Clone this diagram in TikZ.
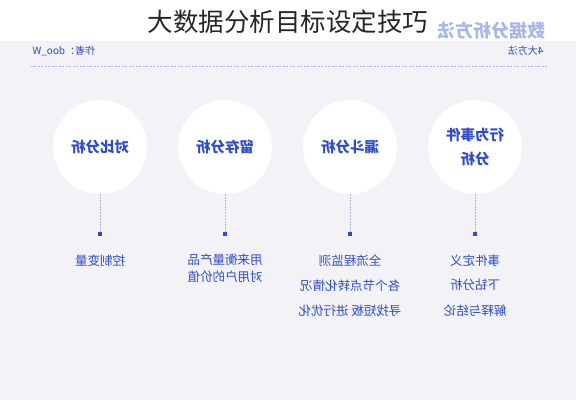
\documentclass[tikz,border=0pt]{standalone}
\usepackage{fontspec}
\newfontfamily\cjk{Noto Sans CJK SC}
\usetikzlibrary{positioning}
\definecolor{bandgray}{HTML}{F3F2F7}
\definecolor{inkblue}{HTML}{2E4CCF}
\definecolor{paleblue}{HTML}{A9B7E6}
\definecolor{dashgray}{HTML}{AEB8E0}

\begin{document}
\begin{tikzpicture}[x=1pt,y=-1pt,
  disc/.style={circle,fill=white,minimum size=94pt,inner sep=0pt,text=inkblue,
    font=\cjk\bfseries\fontsize{14.5}{24}\selectfont,align=center},
  pin/.style={fill=inkblue,minimum size=4pt,inner sep=0pt},
  note/.style={text=inkblue,inner sep=0pt,font=\cjk\fontsize{12.5}{17}\selectfont,align=center},
  link/.style={draw=dashgray,dash pattern=on 1.5pt off 1.5pt,line width=0.6pt}]
  \useasboundingbox (0,0) rectangle (576,400);
  \fill[bandgray] (0,41) rectangle (576,400);
  \node[font=\cjk\fontsize{25.5}{25.5}\selectfont,text=black!85] (title) at (288,22) {大数据分析目标设定技巧};

  % the lower part is shown mirrored
  \begin{scope}[xshift=576pt,xscale=-1,transform shape]
    \node[anchor=west,text=paleblue,font=\cjk\bfseries\fontsize{18}{18}\selectfont] (brand) at (27,31) {数据分析方法};
    \node[anchor=west,text=inkblue,font=\cjk\fontsize{10}{10}\selectfont] (count) at (29,51) {4大方法};
    \node[anchor=east,text=inkblue,font=\cjk\fontsize{10}{10}\selectfont] (author) at (547,51) {作者：doo\_W};
    \draw[dashgray,dash pattern=on 2pt off 1.5pt,line width=0.5pt] (29,66) -- (547,66);

    \node[disc] (event)  at (101,147) {行为事件\\分析};
    \node[disc] (funnel) at (226,147) {漏斗分析};
    \node[disc] (retain) at (351,147) {留存分析};
    \node[disc] (compare) at (476,147) {对比分析};

    \node[pin] (p1) at (101,234) {};
    \node[pin] (p2) at (226,234) {};
    \node[pin] (p3) at (351,234) {};
    \node[pin] (p4) at (476,234) {};

    \path[link]
      (event)   edge (p1)
      (funnel)  edge (p2)
      (retain)  edge (p3)
      (compare) edge (p4);

    \node[note] (e1) [below=18.5pt of p1] {事件定义};
    \node[note] (e2) [below=12.5pt of e1] {下钻分析};
    \node[note] (e3) [below=13.5pt of e2] {解释与结论};

    \node[note] (f1) [below=18.5pt of p2] {全流程监测};
    \node[note] (f2) [below=12.5pt of f1] {各个节点转化情况};
    \node[note] (f3) [below=13.5pt of f2] {寻找短板 进行优化};

    \node[note] (r1) [below=17.5pt of p3] {用来衡量产品\\对用户的价值};

    \node[note] (c1) [below=18.5pt of p4] {控制变量};
  \end{scope}
\end{tikzpicture}
\end{document}
